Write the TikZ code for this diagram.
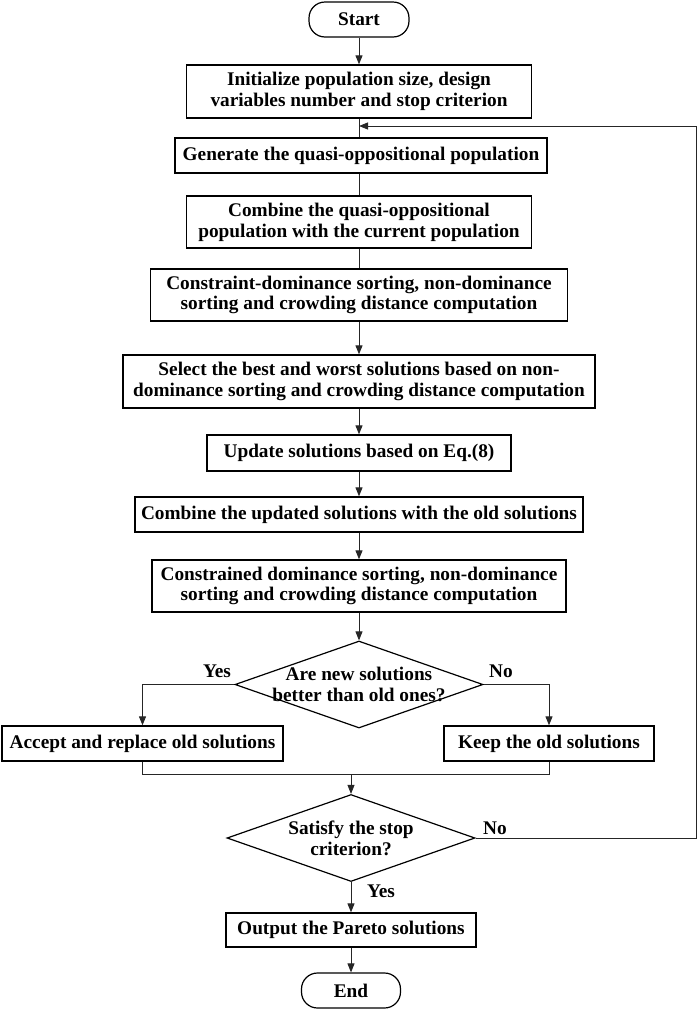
\documentclass[tikz,border=0pt]{standalone}
\usepackage{fontspec}
\setmainfont{Liberation Serif}
\usetikzlibrary{arrows.meta,shapes.geometric}
\begin{document}
\begin{tikzpicture}[x=1pt,y=-1pt,
  every node/.style={font=\fontsize{19.3}{20.8}\selectfont\bfseries},
  box/.style={draw=black,line width=1.3pt,inner sep=0pt,align=center},
  term/.style={draw=black,line width=1.2pt,rounded corners=16pt,inner sep=0pt},
  dia/.style={draw=black,line width=1.2pt,shape=diamond,inner sep=0pt,minimum width=248pt,minimum height=87pt},
  conn/.style={draw=black!85,line width=0.9pt},
  arr/.style={conn,-{Triangle[length=9pt,width=7pt]}},
  lbl/.style={inner sep=0pt}]
\useasboundingbox (0,0) rectangle (700,1010);
\node[term,minimum width=100pt,minimum height=35pt] (start) at (359,19.5) {Start};
\node[box,minimum width=345pt,minimum height=53pt] (init) at (359,91.5) {Initialize population size, design\\variables number and stop criterion};
\node[box,minimum width=372pt,minimum height=35pt] (gen) at (361,155.5) {Generate the quasi-oppositional population};
\node[box,minimum width=345pt,minimum height=52pt] (comb1) at (359,222) {Combine the quasi-oppositional\\population with the current population};
\node[box,minimum width=417pt,minimum height=52pt,line width=1.6pt] (cons1) at (359,295) {Constraint-dominance sorting, non-dominance\\sorting and crowding distance computation};
\node[box,minimum width=472pt,minimum height=53pt] (sel) at (359,381.5) {Select the best and worst solutions based on non-\\dominance sorting and crowding distance computation};
\node[box,minimum width=304pt,minimum height=36pt] (upd) at (359,453) {Update solutions based on Eq.(8)};
\node[box,minimum width=448pt,minimum height=35pt] (comb2) at (359,514.5) {Combine the updated solutions with the old solutions};
\node[box,minimum width=414pt,minimum height=52pt] (cons2) at (359,586) {Constrained dominance sorting, non-dominance\\sorting and crowding distance computation};
\node[dia] (d1) at (359,684.5) {};
\node[lbl,align=center] (d1t) at (d1.center) {Are new solutions\\better than old ones?};
\node[box,minimum width=281pt,minimum height=35pt] (acc) at (142.5,743.5) {Accept and replace old solutions};
\node[box,minimum width=210pt,minimum height=35pt] (keep) at (549,743.5) {Keep the old solutions};
\node[dia] (d2) at (351,838) {};
\node[lbl,align=center] (d2t) at (d2.center) {Satisfy the stop\\criterion?};
\node[box,minimum width=250pt,minimum height=34pt] (out) at (351,930) {Output the Pareto solutions};
\node[term,minimum width=99pt,minimum height=35pt] (end) at (351,990.5) {End};
\node[lbl] (yes1) at (217,671) {Yes};
\node[lbl] (no1) at (501,671) {No};
\node[lbl] (no2) at (495,828) {No};
\node[lbl] (yes2) at (381,891) {Yes};
\coordinate (mj) at (351,774);
\coordinate (lt) at (696,126);
% connectors
\draw[arr] (start) -- (init);
\draw[conn] (init.south) -- (init.south |- gen.north);
\draw[conn] (gen.south -| comb1.north) -- (comb1.north);
\draw[conn] (comb1.south) -- (cons1.north);
\draw[arr] (cons1) -- (sel);
\draw[arr] (sel) -- (upd);
\draw[arr] (upd) -- (comb2);
\draw[arr] (comb2) -- (cons2);
\draw[arr] (cons2) -- (d1);
\draw[arr] (d1.west) -| (acc.north);
\draw[arr] (d1.east) -| (keep.north);
\draw[conn] (acc.south) |- (mj) -| (keep.south);
\draw[arr] (mj) -- (d2.north);
\draw[arr] (d2) -- (out);
\draw[arr] (out) -- (end);
\draw[arr] (d2.east) -| (lt) -- (init.south |- lt);
\end{tikzpicture}
\end{document}
